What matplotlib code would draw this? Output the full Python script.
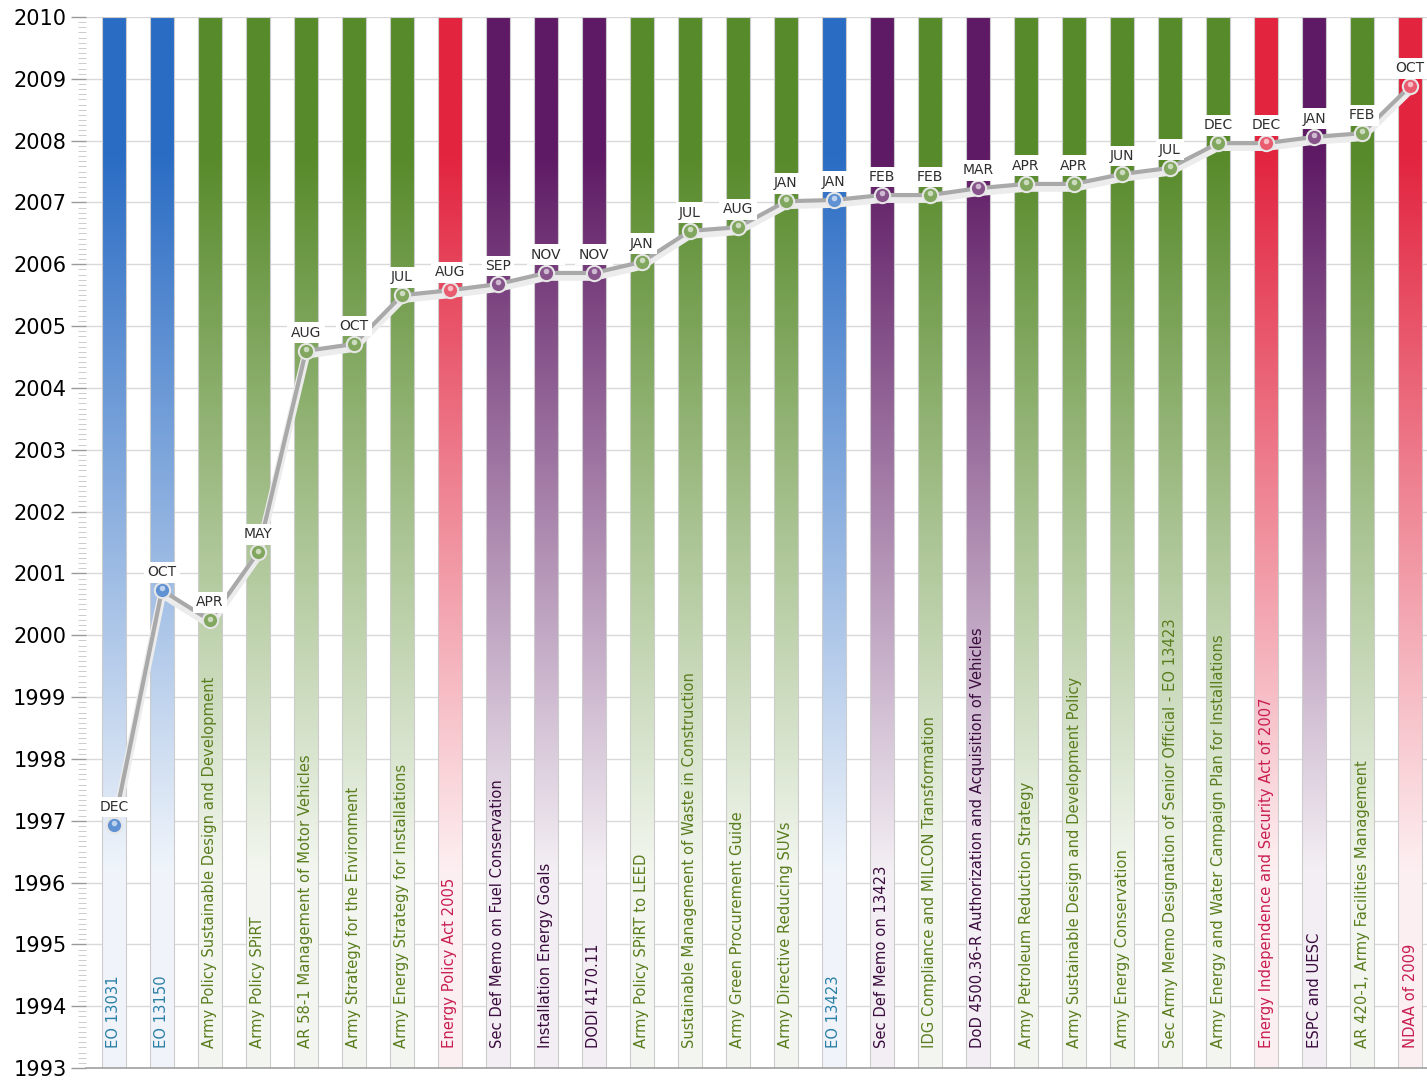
import matplotlib
matplotlib.use('Agg')
import matplotlib.pyplot as plt
import numpy as np
from matplotlib.colors import to_rgb

# policy / document names, left to right
names = ['EO 13031', 'EO 13150', 'Army Policy Sustainable Design and Development',
         'Army Policy SPiRT', 'AR 58-1 Management of Motor Vehicles',
         'Army Strategy for the Environment', 'Army Energy Strategy for Installations',
         'Energy Policy Act 2005', 'Sec Def Memo on Fuel Conservation',
         'Installation Energy Goals', 'DODI 4170.11', 'Army Policy SPiRT to LEED',
         'Sustainable Management of Waste in Construction',
         'Army Green Procurement Guide', 'Army Directive Reducing SUVs', 'EO 13423',
         'Sec Def Memo on 13423', 'IDG Compliance and MILCON Transformation',
         'DoD 4500.36-R Authorization and Acquisition of Vehicles',
         'Army Petroleum Reduction Strategy',
         'Army Sustainable Design and Development Policy', 'Army Energy Conservation',
         'Sec Army Memo Designation of Senior Official - EO 13423',
         'Army Energy and Water Campaign Plan for Installations',
         'Energy Independence and Security Act of 2007', 'ESPC and UESC',
         'AR 420-1, Army Facilities Management', 'NDAA of 2009']

months = ['DEC', 'OCT', 'APR', 'MAY', 'AUG', 'OCT', 'JUL', 'AUG', 'SEP', 'NOV',
          'NOV', 'JAN', 'JUL', 'AUG', 'JAN', 'JAN', 'FEB', 'FEB', 'MAR', 'APR',
          'APR', 'JUN', 'JUL', 'DEC', 'DEC', 'JAN', 'FEB', 'OCT']

# position of each point on the year axis
years = [1996.93, 2000.73, 2000.24, 2001.34, 2004.60, 2004.71, 2005.50, 2005.58,
         2005.68, 2005.86, 2005.86, 2006.04, 2006.54, 2006.60, 2007.02, 2007.04,
         2007.12, 2007.12, 2007.23, 2007.30, 2007.30, 2007.46, 2007.56, 2007.96,
         2007.96, 2008.06, 2008.12, 2008.88]

# source type of each document
kinds = ['eo', 'eo', 'army', 'army', 'army', 'army', 'army', 'law', 'dod', 'dod',
         'dod', 'army', 'army', 'army', 'army', 'eo', 'dod', 'army', 'dod', 'army',
         'army', 'army', 'army', 'army', 'law', 'dod', 'army', 'law']

bar_col = {'eo': '#2a6cc4', 'army': '#578a2a', 'law': '#e2243f', 'dod': '#5e1a64'}
txt_col = {'eo': '#2a7fa5', 'army': '#5a7d1e', 'law': '#c81e50', 'dod': '#3a0c3e'}

ymin, ymax = 1993, 2010

fig = plt.figure(figsize=(14.27, 10.8), dpi=100)
ax = fig.add_axes([86 / 1427, 12 / 1080, 1 - 86 / 1427, 1 - 29 / 1080])

x = np.arange(len(names))
w = 0.48

# vertical fade: full colour near the top, almost white at the bottom
yy = np.linspace(ymin, ymax, 400)
t = np.clip((yy - 1995.3) / 12.5, 0, 1)
t = np.maximum(t, 0.07)

for i in range(len(names)):
    c = np.array(to_rgb(bar_col[kinds[i]]))
    img = np.ones((len(yy), 1, 3)) * (1 - t[:, None, None]) + c * t[:, None, None]
    ax.imshow(img, extent=[x[i] - w / 2, x[i] + w / 2, ymin, ymax], origin='lower',
              aspect='auto', interpolation='bilinear', zorder=1)

ax.bar(x, ymax - ymin, w, bottom=ymin, facecolor='none', edgecolor='#cccccc',
       linewidth=0.8, zorder=2)

# connecting line with a soft shadow
ax.plot(x, np.array(years) - 0.06, color='#ececec', lw=6, zorder=3,
        solid_capstyle='round')
ax.plot(x, years, color='#a9a9a9', lw=3, zorder=4, solid_joinstyle='round')

for i in range(len(names)):
    c = np.array(to_rgb(bar_col[kinds[i]]))
    face = c * 0.75 + 0.25
    ax.plot(x[i], years[i], 'o', ms=11, mfc=face, mec='#e6e6e6', mew=1.5, zorder=5)
    ax.plot(x[i], years[i] + 0.03, 'o', ms=4, mfc='white', mec='none', alpha=0.6,
            zorder=6)
    ax.annotate(months[i], (x[i], years[i]), xytext=(0, 13), textcoords='offset points',
                ha='center', va='center', fontsize=10, color='#2e2e2e', zorder=7,
                bbox=dict(boxstyle='square,pad=0.25', fc='white', ec='none'))
    ax.text(x[i], 1993.33, names[i], rotation=90, ha='center', va='bottom',
            fontsize=10.6, color=txt_col[kinds[i]], zorder=7)

ax.set_xlim(-0.583, 27.354)
ax.set_ylim(ymin, ymax)
ax.set_yticks(np.arange(1993, 2011, 1))
ax.set_yticklabels([str(v) for v in range(1993, 2011)], fontsize=15)
ax.set_yticks(np.arange(1993, 2010, 1 / 12), minor=True)
ax.tick_params(axis='y', which='major', length=11, width=1, color='#9a9a9a', pad=3)
ax.tick_params(axis='y', which='minor', length=6, width=0.6, color='#c4c4c4')
ax.set_xticks([])
ax.grid(axis='y', color='#d9d9d9', lw=1, zorder=0)
ax.set_axisbelow(True)

for s in ['top', 'right', 'left']:
    ax.spines[s].set_visible(False)
ax.spines['bottom'].set_color('#a0a0a0')
ax.spines['bottom'].set_linewidth(1.2)

plt.savefig('out.png', dpi=100)
